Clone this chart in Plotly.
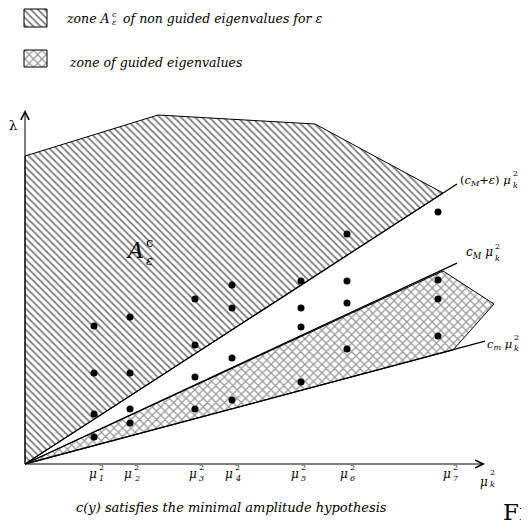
import plotly.graph_objects as go

SERIF = "DejaVu Serif"

# ---- data (origin-relative units: mu_k^2 along x, lambda along y) ----
mu_sq = [69, 105, 170, 207, 276, 322, 413]          # columns of eigenvalues
lam_1 = [138, 147, 165, 179, 183, 230, 252]
lam_2 = [91, 91, 119, 156, 156, 183, 184]
lam_3 = [50, 55, 87, 106, 137, 161, 165]
lam_4 = [27, 41, 55, 64, 82, 115, 128]

tick_pos = [73, 108, 173, 209, 275, 324, 427]
tick_idx = ["1", "2", "3", "4", "5", "6", "7"]

slope_cMe = 0.648    # (c_M + eps)
slope_cM = 0.465     # c_M
slope_cm = 0.267     # c_m
end_cMe, end_cM, end_cm = 432, 432, 460

zoneA_x = [0, 0, 133, 290, 418, 0]
zoneA_y = [0, 308, 349, 340, 271, 0]
guided_x = [0, 428, 469, 418, 0]
guided_y = [0, 114, 160, 193, 0]

axis_x_end = 460
axis_y_end = 354

legend1_x = [-1, 22, 22, -1, -1]
legend1_y = [437, 437, 455, 455, 437]
legend2_x = [-1, 22, 22, -1, -1]
legend2_y = [397, 397, 414, 414, 397]

HATCH = dict(shape="\\", size=5, solidity=0.35, fgcolor="black", bgcolor="white")
CROSS = dict(shape="x", size=6, solidity=0.38, fgcolor="#333333", bgcolor="white")

fig = go.Figure()

fig.add_trace(go.Scatter(x=zoneA_x, y=zoneA_y, mode="lines", fill="toself",
                         fillpattern=HATCH, fillcolor="white",
                         line=dict(color="black", width=1), hoverinfo="skip"))
fig.add_trace(go.Scatter(x=guided_x, y=guided_y, mode="lines", fill="toself",
                         fillpattern=CROSS, fillcolor="white",
                         line=dict(color="black", width=1), hoverinfo="skip"))

# legend swatches
fig.add_trace(go.Scatter(x=legend1_x, y=legend1_y, mode="lines", fill="toself",
                         fillpattern=HATCH, fillcolor="white",
                         line=dict(color="black", width=1), hoverinfo="skip"))
fig.add_trace(go.Scatter(x=legend2_x, y=legend2_y, mode="lines", fill="toself",
                         fillpattern=CROSS, fillcolor="white",
                         line=dict(color="black", width=1), hoverinfo="skip"))

# bounding lines
for s, e in [(slope_cMe, end_cMe), (slope_cM, end_cM), (slope_cm, end_cm)]:
    fig.add_trace(go.Scatter(x=[0, e], y=[0, s * e], mode="lines",
                             line=dict(color="black", width=1.3), hoverinfo="skip"))

# eigenvalue dots
for lam in (lam_1, lam_2, lam_3, lam_4):
    fig.add_trace(go.Scatter(x=mu_sq, y=lam, mode="markers",
                             marker=dict(color="black", size=7), hoverinfo="skip"))

# axes arrows
for (tx, ty) in [(axis_x_end, 0), (0, axis_y_end)]:
    fig.add_annotation(x=tx, y=ty, ax=0, ay=0, xref="x", yref="y", axref="x", ayref="y",
                       text="", showarrow=True, arrowhead=5, arrowsize=1.6,
                       arrowwidth=1, arrowcolor="black", standoff=0)


def ann(x, y, text, size, xanchor="center", italic=False):
    fig.add_annotation(x=x, y=y, xref="x", yref="y", text=text, showarrow=False,
                       xanchor=xanchor, yanchor="middle",
                       font=dict(family=SERIF, size=size, color="black",
                                 style="italic" if italic else "normal"))


def scripted(x, y, base, sup, sub, size, ssize, ysup, ysub, italic=True):
    ann(x + 1, y, base, size, xanchor="right", italic=italic)
    ann(x - 1, ysup, sup, ssize, xanchor="left", italic=False)
    ann(x - 1, ysub, sub, ssize, xanchor="left", italic=True)


# tick labels mu_i^2
for p, i in zip(tick_pos, tick_idx):
    scripted(p, -10, "μ", "2", i, 12, 8, -3, -14)

# axis labels
scripted(464, -18, "μ", "2", "k", 12, 8, -8, -20)
ann(-12, 339, "λ", 13)

# line labels
scripted(487, 284, "(<i>c</i><sub><i>M</i></sub>+<i>ε</i>) <i>μ</i>", "2", "k", 11.5, 8, 291, 279, italic=False)
scripted(469, 211, "<i>c</i><sub><i>M</i></sub> <i>μ</i>", "2", "k", 12, 8, 218, 206, italic=False)
scripted(488, 120, "<i>c</i><sub><i>m</i></sub> <i>μ</i>", "2", "k", 11.5, 8, 127, 116, italic=False)

# zone label
scripted(120, 214, "A", "c", "ε", 22, 13, 222, 204)

# legend texts
scripted(86, 446, "zone A", "c", "ε", 12.5, 8, 450, 442)
ann(96, 446, "of non guided eigenvalues for ε", 12.5, xanchor="left", italic=True)
ann(42, 402, "zone of guided eigenvalues", 12.5, xanchor="left", italic=True)

# caption
ann(206, -43, "c(y) satisfies the minimal amplitude hypothesis", 13, italic=True)
ann(476, -48, "F<span style='font-size:17px'>IG</span>", 23, xanchor="left")

# page body has an 8px margin: shift the plotting frame accordingly
fig.update_layout(
    width=521, height=512, autosize=False,
    margin=dict(l=0, r=0, t=0, b=0),
    paper_bgcolor="white", plot_bgcolor="white",
    showlegend=False,
    xaxis=dict(range=[-17, 504], visible=False, fixedrange=True),
    yaxis=dict(range=[-56, 456], visible=False, fixedrange=True),
)

fig.write_html("out.html")
